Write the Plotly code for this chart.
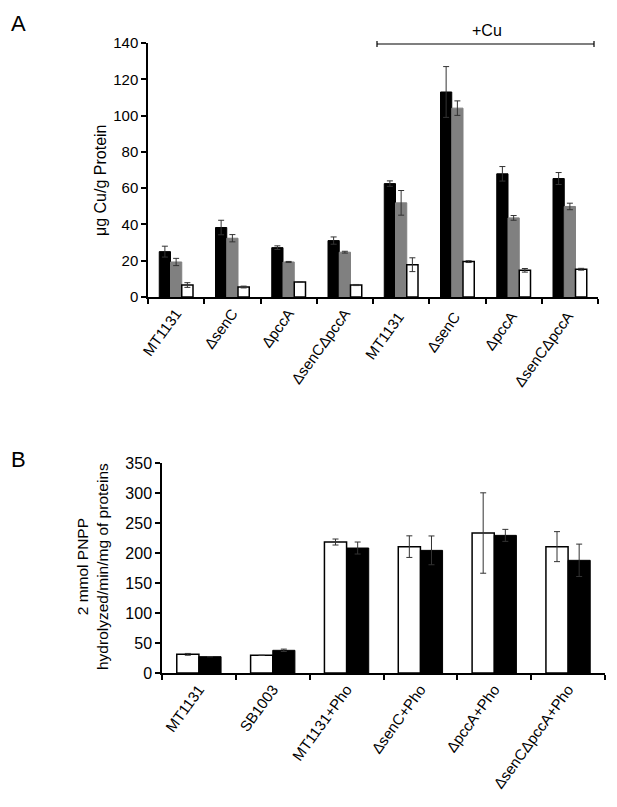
import plotly.graph_objects as go

# Page offset (default body margin) compensation
OFF = 8
W, H = 617 - OFF, 807 - OFF

# Panel A data
cats_a = ["MT1131", "ΔsenC", "ΔpccA", "ΔsenCΔpccA",
          "MT1131 ", "ΔsenC ", "ΔpccA ", "ΔsenCΔpccA "]
a_black = [25.0, 38.3, 27.2, 31.1, 62.5, 113.0, 67.9, 65.3]
a_black_err = [3.0, 4.0, 1.0, 2.0, 1.5, 14.0, 4.0, 3.3]
a_gray = [19.3, 32.4, 19.3, 24.7, 51.9, 104.1, 43.6, 49.9]
a_gray_err = [2.0, 2.0, 0.3, 0.5, 6.8, 4.0, 1.3, 1.8]
a_white = [6.6, 5.5, 8.3, 6.6, 17.8, 19.5, 14.7, 15.3]
a_white_err = [1.3, 0.5, 0.0, 0.3, 3.8, 0.5, 1.0, 0.5]
a_ticks = [0, 20, 40, 60, 80, 100, 120, 140]

# Panel B data
cats_b = ["MT1131", "SB1003", "MT1131+Pho", "ΔsenC+Pho", "ΔpccA+Pho",
          "ΔsenCΔpccA+Pho"]
b_white = [31.1, 29.4, 218.3, 210.6, 233.3, 210.6]
b_white_err = [1.5, 0.0, 5.0, 18.0, 67.0, 25.0]
b_black = [27.2, 37.8, 208.3, 204.4, 229.4, 187.8]
b_black_err = [0.0, 2.0, 10.0, 24.0, 10.0, 27.0]
b_ticks = [0, 50, 100, 150, 200, 250, 300, 350]


def px(x):
    return (x - OFF) / W


def py(y):
    return 1 - (y - OFF) / H


FONT = "Liberation Sans, Arial, sans-serif"
ERR = dict(type="data", color="#333333", thickness=1, width=3)

fig = go.Figure()


def err(vals):
    return dict(ERR, array=vals, visible=True)


fig.add_trace(go.Bar(x=cats_a, y=a_black, error_y=err(a_black_err),
                     marker=dict(color="black", line=dict(color="black", width=1)),
                     xaxis="x", yaxis="y", showlegend=False))
fig.add_trace(go.Bar(x=cats_a, y=a_gray, error_y=err(a_gray_err),
                     marker=dict(color="#808080", line=dict(color="#808080", width=1)),
                     xaxis="x", yaxis="y", showlegend=False))
fig.add_trace(go.Bar(x=cats_a, y=a_white, error_y=err(a_white_err),
                     marker=dict(color="white", line=dict(color="black", width=1.5)),
                     xaxis="x", yaxis="y", showlegend=False))

fig.add_trace(go.Bar(x=cats_b, y=b_white, error_y=err(b_white_err),
                     marker=dict(color="white", line=dict(color="black", width=1.5)),
                     xaxis="x2", yaxis="y2", showlegend=False))
fig.add_trace(go.Bar(x=cats_b, y=b_black, error_y=err(b_black_err),
                     marker=dict(color="black", line=dict(color="black", width=1)),
                     xaxis="x2", yaxis="y2", showlegend=False))


def axis(size, **kw):
    d = dict(showline=True, linecolor="black", linewidth=1.5, ticks="outside",
             tickcolor="black", ticklen=5, tickwidth=1.5, showgrid=False,
             zeroline=False, automargin=False,
             tickfont=dict(family=FONT, size=size, color="black"))
    d.update(kw)
    return d


fig.update_layout(
    template="none",
    width=W, height=H, margin=dict(l=0, r=0, t=0, b=0, pad=0),
    paper_bgcolor="white", plot_bgcolor="white",
    barmode="group", bargap=0.4, bargroupgap=0,
    font=dict(family=FONT, color="black"),
    xaxis=axis(15, domain=[px(148), px(598)], anchor="y", type="category",
               tickson="boundaries", tickangle=-54),
    yaxis=axis(15, domain=[py(297), py(43)], anchor="x", range=[0, 140],
               tickvals=a_ticks),
    xaxis2=axis(15, domain=[px(162), px(605)], anchor="y2", type="category",
                tickson="boundaries", tickangle=-54),
    yaxis2=axis(16, domain=[py(673), py(463)], anchor="x2", range=[0, 350],
                tickvals=b_ticks),
)

annots = [
    dict(text="A", x=px(18), y=py(9), yanchor="top", font=dict(size=22)),
    dict(text="B", x=px(18), y=py(445), yanchor="top", font=dict(size=22)),
    dict(text="μg Cu/g Protein", x=px(101), y=py(180), textangle=-90, font=dict(size=16)),
    dict(text="2 mmol PNPP<br>hydrolyzed/min/mg of proteins", x=px(92), y=py(567),
         textangle=-90, font=dict(size=15.5)),
    dict(text="+Cu", x=px(487), y=py(31), font=dict(size=16)),
]
for a in annots:
    a.setdefault("yanchor", "middle")
    fig.add_annotation(xref="paper", yref="paper", showarrow=False,
                       xanchor="center", **a)

line = dict(color="black", width=1.2)
fig.add_shape(type="line", xref="paper", yref="paper", x0=px(377), x1=px(594),
              y0=py(44), y1=py(44), line=line)
for xx in (377, 594):
    fig.add_shape(type="line", xref="paper", yref="paper", x0=px(xx), x1=px(xx),
                  y0=py(41), y1=py(47), line=line)

fig.write_html("out.html")
